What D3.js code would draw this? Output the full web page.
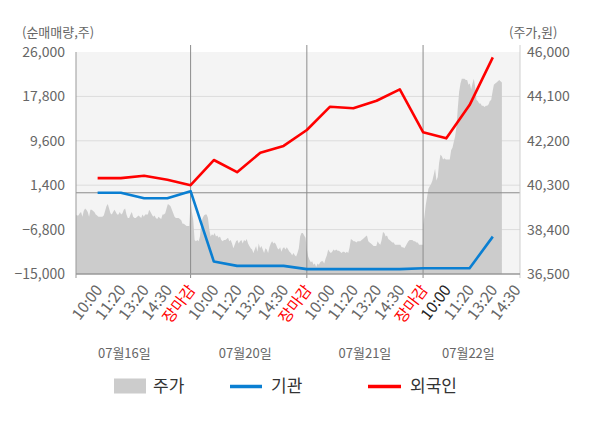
<!DOCTYPE html>
<html>
<head>
<meta charset="utf-8">
<script src="https://cdn.jsdelivr.net/npm/d3@7"></script>
<style>
  body { margin: 0; background: #fff; }
  text { font-family: "Noto Sans CJK KR", "Noto Sans", sans-serif; }
</style>
</head>
<body>
<svg id="chart" width="600" height="428"></svg>
<script>
// x categories (one per tick), the last session is still open
const tickLabels = [
  "10:00", "11:20", "13:20", "14:30", "장마감",
  "10:00", "11:20", "13:20", "14:30", "장마감",
  "10:00", "11:20", "13:20", "14:30", "장마감",
  "10:00", "11:20", "13:20", "14:30"
];
const dates = ["07월16일", "07월20일", "07월21일", "07월22일"];

// net buying (shares), one value per tick
const foreign = [2700, 2700, 3150, 2400, 1400, 6050, 3800, 7400, 8650, 11600,
  15900, 15600, 17000, 19100, 11200, 10050, 16200, 25000];
const institution = [0, 0, -1000, -1000, 300, -12700, -13500, -13500, -13500, -14100,
  -14100, -14100, -14100, -14100, -13950, -13950, -13950, -8100];

const leftTicks = [26000, 17800, 9600, 1400, -6800, -15000];
const rightTicks = [46000, 44100, 42200, 40300, 38400, 36500];

// intraday price (won), sampled evenly through each session
const SLOTS = 87;
const priceDay1 = [39050, 39050, 39000, 39000, 39100, 39150, 38950, 39200, 39300, 39250,
  39150, 38950, 39250, 39250, 39200, 39150, 39050, 39000, 38950, 38950,
  38950, 38950, 39000, 39200, 39400, 39500, 39300, 39100, 39050, 39150,
  39250, 39150, 39050, 39050, 39150, 39050, 39100, 39250, 39300, 39050,
  38900, 38900, 39050, 39150, 38950, 38900, 38900, 38950, 39000, 38950,
  38900, 39050, 38950, 39050, 39050, 39050, 39250, 39150, 39050, 38950,
  39000, 38900, 38850, 38950, 38900, 38850, 39050, 39050, 39100, 39300,
  39500, 39450, 39400, 39250, 39100, 38950, 38900, 38900, 38900, 38850,
  38800, 38650, 38650, 38600, 38550, 38550, 38550];
const priceDay2 = [39600, 39150, 38800, 37950, 37900, 37950, 37900, 38100, 38650, 38900,
  39000, 39050, 39050, 38900, 38400, 38100, 38200, 38150, 38250, 38100,
  38150, 38050, 38100, 37950, 37900, 37950, 37950, 38000, 38050, 37900,
  37950, 37800, 37600, 37750, 37900, 37950, 37800, 37900, 37950, 37800,
  37950, 37900, 38000, 37800, 37700, 37600, 37550, 37400, 37550, 37700,
  37450, 37800, 37600, 37700, 37550, 37400, 37600, 37550, 37400, 37650,
  37800, 37900, 37800, 37850, 37750, 37600, 37550, 37650, 37450, 37600,
  37650, 37550, 37650, 37550, 37450, 37400, 37300, 37400, 37300, 37250,
  37400, 37600, 38100, 38250, 38250, 38150, 38050];
const priceDay3 = [37550, 37250, 37100, 37000, 37050, 36900, 36950, 36800, 36950, 36900,
  37000, 37050, 37050, 36950, 37150, 37300, 37550, 37450, 37400, 37450,
  37550, 37500, 37550, 37500, 37500, 37450, 37400, 37450, 37450, 37400,
  37450, 37400, 37650, 38000, 37950, 37900, 37900, 37850, 37900, 37900,
  37900, 37950, 38000, 38050, 38100, 38150, 37900, 37850, 37800, 37750,
  37700, 37700, 37700, 37900, 37800, 37750, 37950, 38300, 38250, 38100,
  38150, 38000, 37950, 37900, 37850, 37850, 37750, 37750, 37750, 37750,
  37750, 37650, 37650, 37600, 37700, 37800, 37900, 37950, 37950, 37950,
  37900, 37900, 37850, 37850, 37750, 37750, 37750, 37750];
const priceDay4 = [38600, 38950, 39450, 39800, 40150, 40250, 40350, 40500, 40750, 41000,
  40500, 40650, 41250, 41600, 41550, 41400, 41450, 41400, 41400, 41400,
  41400, 41800, 41900, 42150, 42400, 42800, 43600, 44300, 44650, 44850,
  44850, 44850, 44800, 44800, 44600, 44650, 44400, 44650, 44850, 44500,
  43950, 43900, 43800, 43800, 43700, 43700, 43650, 43700, 43700, 43750,
  43900, 43950, 44300, 44600, 44650, 44700, 44750, 44800, 44750, 44700];

const svg = d3.select("#chart");
const plot = { left: 76, right: 520, top: 52, bottom: 274 };

// tick i sits at x(i); each session opens at the previous close tick
const x = d3.scaleLinear().domain([-0.93, 18.17]).range([plot.left, plot.right]);
const yL = d3.scaleLinear().domain([-15000, 26000]).range([plot.bottom, plot.top]);
const yR = d3.scaleLinear().domain([36500, 46000]).range([plot.bottom, plot.top]);

const prices = [priceDay1, priceDay2, priceDay3, priceDay4].flatMap((arr, d) =>
  arr.map((p, j) => ({ i: 5 * d - 1 + (j * 5) / SLOTS, p })));

const closeIdx = tickLabels.map((t, i) => (t === "장마감" ? i : -1)).filter((i) => i >= 0);

// background
svg.append("rect")
  .attr("x", plot.left).attr("y", plot.top)
  .attr("width", plot.right - plot.left).attr("height", plot.bottom - plot.top)
  .attr("fill", "#f4f4f4");

svg.append("clipPath").attr("id", "clip")
  .append("rect")
  .attr("x", plot.left).attr("y", plot.top)
  .attr("width", plot.right - plot.left).attr("height", plot.bottom - plot.top);

// grid
svg.append("g").selectAll("line")
  .data(leftTicks.slice(1, -1))
  .join("line")
  .attr("x1", plot.left).attr("x2", plot.right)
  .attr("y1", (d) => yL(d)).attr("y2", (d) => yL(d))
  .attr("stroke", "#dcdcdc").attr("stroke-width", 1);

// price area
svg.append("path")
  .datum(prices)
  .attr("clip-path", "url(#clip)")
  .attr("fill", "#cccccc")
  .attr("d", d3.area().x((d) => x(d.i)).y0(yR(36500)).y1((d) => yR(d.p)));

// zero line
svg.append("line")
  .attr("x1", plot.left).attr("x2", plot.right)
  .attr("y1", yL(0)).attr("y2", yL(0))
  .attr("stroke", "#8c8c8c").attr("stroke-width", 1);

// session separators
svg.append("g").selectAll("line")
  .data(closeIdx)
  .join("line")
  .attr("x1", (d) => x(d)).attr("x2", (d) => x(d))
  .attr("y1", plot.top - 7).attr("y2", plot.bottom + 4)
  .attr("stroke", "#8c8c8c").attr("stroke-width", 1);

// frame
svg.append("line")
  .attr("x1", plot.left).attr("x2", plot.left)
  .attr("y1", plot.top).attr("y2", plot.bottom + 4)
  .attr("stroke", "#999").attr("stroke-width", 1);
svg.append("line")
  .attr("x1", plot.right).attr("x2", plot.right)
  .attr("y1", plot.top - 7).attr("y2", plot.bottom + 4)
  .attr("stroke", "#cfcfcf").attr("stroke-width", 1);
svg.append("line")
  .attr("x1", plot.left).attr("x2", plot.right)
  .attr("y1", plot.bottom).attr("y2", plot.bottom)
  .attr("stroke", "#999").attr("stroke-width", 1.5);

// lines
const line = d3.line().x((d, i) => x(i)).y((d) => yL(d));
svg.append("path").datum(institution)
  .attr("fill", "none").attr("stroke", "#0a7fd2").attr("stroke-width", 2.6)
  .attr("stroke-linejoin", "round")
  .attr("d", line);
svg.append("path").datum(foreign)
  .attr("fill", "none").attr("stroke", "#ff0000").attr("stroke-width", 2.6)
  .attr("stroke-linejoin", "round")
  .attr("d", line);

// y axes
const yAxisL = svg.append("g")
  .attr("transform", `translate(${plot.left},0)`)
  .call(d3.axisLeft(yL).tickValues(leftTicks).tickFormat(d3.format(",")).tickSize(0).tickPadding(11));
const yAxisR = svg.append("g")
  .attr("transform", `translate(${plot.right},0)`)
  .call(d3.axisRight(yR).tickValues(rightTicks).tickFormat(d3.format(",")).tickSize(0).tickPadding(7));
[yAxisL, yAxisR].forEach((g) => {
  g.select(".domain").remove();
  g.selectAll("text")
    .style("font-family", '"Noto Sans CJK KR", sans-serif')
    .style("font-size", "14px")
    .attr("fill", "#666");
});

svg.append("text").attr("x", 22).attr("y", 37)
  .attr("font-size", 13).attr("fill", "#666").text("(순매매량,주)");
svg.append("text").attr("x", 509).attr("y", 37)
  .attr("font-size", 13).attr("fill", "#666").text("(주가,원)");

// x tick labels
svg.append("g").selectAll("text")
  .data(tickLabels)
  .join("text")
  .attr("transform", (d, i) => `translate(${x(i) + 5.5},290) rotate(-53)`)
  .attr("text-anchor", "end")
  .attr("font-size", 15.5)
  .attr("fill", (d, i) => (d === "장마감" ? "#ff0000" : i === 15 ? "#222" : "#666"))
  .text((d) => d);

// session dates
const dateAt = [1.15, 6.35, 11.5, 15.95];
svg.append("g").selectAll("text")
  .data(dates)
  .join("text")
  .attr("x", (d, i) => x(dateAt[i]))
  .attr("y", 358)
  .attr("text-anchor", "middle")
  .attr("font-size", 13)
  .attr("fill", "#666")
  .text((d) => d);

// legend
const legend = svg.append("g").attr("transform", "translate(0,386)");
legend.append("rect").attr("x", 114).attr("y", -7.5).attr("width", 32).attr("height", 15).attr("fill", "#cccccc");
legend.append("text").attr("x", 153).attr("y", 6).attr("font-size", 17).attr("fill", "#333").text("주가");
legend.append("line").attr("x1", 230).attr("x2", 262).attr("y1", 0.5).attr("y2", 0.5)
  .attr("stroke", "#0a7fd2").attr("stroke-width", 3.5);
legend.append("text").attr("x", 271).attr("y", 6).attr("font-size", 17).attr("fill", "#333").text("기관");
legend.append("line").attr("x1", 368).attr("x2", 401).attr("y1", 0.5).attr("y2", 0.5)
  .attr("stroke", "#ff0000").attr("stroke-width", 3.5);
legend.append("text").attr("x", 410).attr("y", 6).attr("font-size", 17).attr("fill", "#333").text("외국인");
</script>
</body>
</html>
